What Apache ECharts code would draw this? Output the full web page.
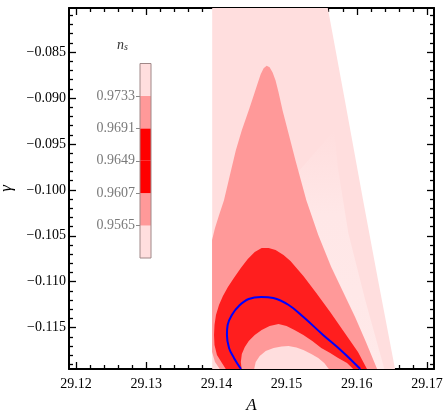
<!DOCTYPE html>
<html>
<head>
<meta charset="utf-8">
<script src="https://cdn.jsdelivr.net/npm/echarts@6/dist/echarts.min.js"></script>
<style>html,body{margin:0;padding:0;background:#fff;}#c{width:443px;height:411px;}</style>
</head>
<body>
<div id="c"></div>
<script>
// ---- data (A, gamma) ----
const xMajor = [29.12, 29.13, 29.14, 29.15, 29.16, 29.17];
const yMajor = [-0.115, -0.110, -0.105, -0.100, -0.095, -0.090, -0.085];
const nsLevels = [0.9523, 0.9565, 0.9607, 0.9649, 0.9691, 0.9733, 0.9775];
const nsTickLabels = [0.9565, 0.9607, 0.9649, 0.9691, 0.9733];

const outerRegion = [[29.1394,-0.0795],[29.1557,-0.0795],[29.1583,-0.09025],[29.1609,-0.10112],[29.1630,-0.1097],[29.1655,-0.1197],[29.1394,-0.1197]];
const lightBand = [[29.1568,-0.09351],[29.1573,-0.09753],[29.1588,-0.10471],[29.1612,-0.11199],[29.1640,-0.1197],[29.1630,-0.1197],[29.1613,-0.11655],[29.1598,-0.11384],[29.1581,-0.11112],[29.1564,-0.10840],[29.1545,-0.10492],[29.1528,-0.10112],[29.1517,-0.09800]];
const midOuter = [[29.13938,-0.10547],[29.13980,-0.10416],[29.14037,-0.10275],[29.14108,-0.10112],[29.14192,-0.09840],[29.14277,-0.09568],[29.14362,-0.09351],[29.14461,-0.09134],[29.14532,-0.08971],[29.14588,-0.08840],[29.14631,-0.08742],[29.14673,-0.08677],[29.14716,-0.08650],[29.14758,-0.08666],[29.14801,-0.08721],[29.14843,-0.08808],[29.14885,-0.08938],[29.14942,-0.09134],[29.15027,-0.09384],[29.15126,-0.09677],[29.15281,-0.10112],[29.15451,-0.10492],[29.15635,-0.10840],[29.15805,-0.11112],[29.15975,-0.11384],[29.16130,-0.11655],[29.16300,-0.1197],[29.14065,-0.1197],[29.13980,-0.11873],[29.13938,-0.11764]];
const redRegion = [[29.14150,-0.1197],[29.14079,-0.11884],[29.14008,-0.11797],[29.13973,-0.11688],[29.13966,-0.11579],[29.13973,-0.11471],[29.13994,-0.11362],[29.14037,-0.11253],[29.14093,-0.11155],[29.14164,-0.11058],[29.14249,-0.10960],[29.14348,-0.10851],[29.14447,-0.10753],[29.14546,-0.10677],[29.14645,-0.10634],[29.14744,-0.10634],[29.14843,-0.10655],[29.14956,-0.10710],[29.15055,-0.10775],[29.15239,-0.10938],[29.15423,-0.11123],[29.15621,-0.11329],[29.15819,-0.11547],[29.16017,-0.11764],[29.16159,-0.1197]];
const midInner = [[29.14362,-0.1197],[29.14348,-0.11873],[29.14362,-0.11786],[29.14405,-0.11710],[29.14461,-0.11645],[29.14546,-0.11579],[29.14645,-0.11525],[29.14758,-0.11482],[29.14885,-0.11460],[29.14999,-0.11482],[29.15112,-0.11525],[29.15239,-0.11579],[29.15366,-0.11645],[29.15494,-0.11721],[29.15621,-0.11775],[29.15734,-0.11829],[29.15861,-0.11884],[29.15975,-0.1197]];
const coreRegion = [[29.14532,-0.1197],[29.14560,-0.11873],[29.14617,-0.11808],[29.14702,-0.11753],[29.14815,-0.11721],[29.14928,-0.11704],[29.15027,-0.11699],[29.15140,-0.11715],[29.15239,-0.11742],[29.15352,-0.11786],[29.15451,-0.11829],[29.15536,-0.11884],[29.15621,-0.1197]];
const blueCurve = [[29.1435,-0.1195],[29.1425,-0.11829],[29.1418,-0.11721],[29.1415,-0.11579],[29.1416,-0.11471],[29.1422,-0.11362],[29.1432,-0.11264],[29.1446,-0.11188],[29.1464,-0.11166],[29.1481,-0.11177],[29.1503,-0.11253],[29.1524,-0.11384],[29.1552,-0.11579],[29.1580,-0.11764],[29.1605,-0.1195]];

// ---- styles ----
const C_LIGHT = '#ffdede', C_MID = '#ff9999', C_RED = '#ff1e1e';
const C_LIGHTER = { type: 'linear', x: 0, y: 0, x2: 0, y2: 1, colorStops: [{ offset: 0, color: '#ffdede' }, { offset: 0.35, color: '#ffe7e7' }, { offset: 1, color: '#ffe9e9' }] };
const bandColors = ['#ffdede', '#ff9999', '#ff0000', '#ff0000', '#ff9999', '#ffdede'];
const FONT = "'Liberation Serif','DejaVu Serif',serif";
const X_MIN = 29.119, X_MAX = 29.171, Y_MIN = -0.1195, Y_MAX = -0.0802;

const r = v => Math.round(v * 1e6) / 1e6;
const xMinor = [], yMinor = [];
for (let k = 0; k <= 26; k++) { const v = r(29.118 + k * 0.002); if (v > X_MIN && v < X_MAX && !xMajor.some(m => Math.abs(m - v) < 1e-7)) xMinor.push(v); }
for (let k = 0; k <= 40; k++) { const v = r(-0.120 + k * 0.001); if (v > Y_MIN && v < Y_MAX && !yMajor.some(m => Math.abs(m - v) < 1e-7)) yMinor.push(v); }

function xAx(pos, ticks, len, withLabel, lineShow) {
  const o = {
    type: 'value', gridIndex: 0, position: pos, min: X_MIN, max: X_MAX,
    axisLine: { show: lineShow, onZero: false, lineStyle: { color: '#000', width: 2 } },
    axisTick: { show: true, inside: true, length: len, customValues: ticks, lineStyle: { color: '#000', width: 1.3 } },
    axisLabel: { show: withLabel },
    splitLine: { show: false }
  };
  if (withLabel) {
    o.axisLabel = { show: true, customValues: ticks, formatter: v => v.toFixed(2), fontFamily: FONT, fontSize: 14, color: '#000', margin: 8 };
    o.name = 'A'; o.nameLocation = 'middle'; o.nameGap = 28;
    o.nameTextStyle = { fontFamily: FONT, fontStyle: 'italic', fontSize: 17, color: '#000' };
  }
  return o;
}
function yAx(pos, ticks, len, withLabel, lineShow) {
  const o = {
    type: 'value', gridIndex: 0, position: pos, min: Y_MIN, max: Y_MAX,
    axisLine: { show: lineShow, onZero: false, lineStyle: { color: '#000', width: 2 } },
    axisTick: { show: true, inside: true, length: len, customValues: ticks, lineStyle: { color: '#000', width: 1.3 } },
    axisLabel: { show: withLabel },
    splitLine: { show: false }
  };
  if (withLabel) {
    o.axisLabel = { show: true, customValues: ticks, formatter: v => '\u2212' + Math.abs(v).toFixed(3), fontFamily: FONT, fontSize: 14, color: '#000', margin: 3 };
    o.name = 'γ'; o.nameLocation = 'middle'; o.nameGap = 54; o.nameRotate = 90;
    o.nameTextStyle = { fontFamily: FONT, fontStyle: 'italic', fontSize: 17, color: '#000' };
  }
  return o;
}

function polySeries(poly, fill) {
  return {
    type: 'custom', xAxisIndex: 0, yAxisIndex: 0, clip: true, silent: true,
    data: poly,
    renderItem: (params, api) => {
      if (params.dataIndex !== 0) return null;
      return { type: 'polygon', shape: { points: poly.map(p => api.coord(p)) }, style: { fill: fill, stroke: null } };
    }
  };
}

const chart = echarts.init(document.getElementById('c'), null, { renderer: 'canvas' });
chart.setOption({
  animation: false,
  backgroundColor: '#fff',
  grid: [
    { left: 69, right: 9, top: 8, bottom: 42, containLabel: false, outerBoundsMode: 'none' },
    { left: 140, top: 63.5, width: 11, height: 194.5, containLabel: false, outerBoundsMode: 'none' }
  ],
  xAxis: [
    xAx('bottom', xMajor, 7, true, true),
    xAx('bottom', xMinor, 4, false, false),
    xAx('top', xMajor, 7, false, true),
    xAx('top', xMinor, 4, false, false),
    { type: 'value', gridIndex: 1, min: 0, max: 1, show: false }
  ],
  yAxis: [
    yAx('left', yMajor, 7, true, true),
    yAx('left', yMinor, 4, false, false),
    yAx('right', yMajor, 7, false, true),
    yAx('right', yMinor, 4, false, false),
    {
      type: 'value', gridIndex: 1, min: nsLevels[0], max: nsLevels[nsLevels.length - 1], position: 'left',
      axisLine: { show: false },
      axisTick: { show: true, inside: false, length: 4, customValues: nsTickLabels, lineStyle: { color: '#888', width: 1 } },
      axisLabel: { show: true, customValues: nsTickLabels, formatter: v => v.toFixed(4), fontFamily: FONT, fontSize: 14, color: '#7a7a7a', margin: 5 },
      splitLine: { show: false }
    }
  ],
  graphic: [{
    type: 'text', left: 117, top: 38,
    style: {
      text: '{n|n}{s|s}',
      rich: {
        n: { fontFamily: FONT, fontStyle: 'italic', fontSize: 14, fill: '#333', verticalAlign: 'bottom' },
        s: { fontFamily: FONT, fontStyle: 'italic', fontSize: 10, fill: '#333', verticalAlign: 'bottom', padding: [4, 0, 0, 0] }
      }
    }
  }],
  series: [
    polySeries(outerRegion, C_LIGHT),
    polySeries(lightBand, C_LIGHTER),
    polySeries(midOuter, C_MID),
    polySeries(redRegion, C_RED),
    polySeries(midInner, C_MID),
    polySeries(coreRegion, C_LIGHT),
    {
      type: 'line', xAxisIndex: 0, yAxisIndex: 0, data: blueCurve, smooth: 0.4, showSymbol: false, silent: true,
      lineStyle: { color: '#0000ff', width: 2 }, clip: true
    },
    {
      type: 'custom', xAxisIndex: 4, yAxisIndex: 4, silent: true,
      data: bandColors.map((c, i) => [nsLevels[i], nsLevels[i + 1]]),
      renderItem: (params, api) => {
        const p1 = api.coord([0, api.value(1)]);
        const p2 = api.coord([1, api.value(0)]);
        return { type: 'rect', shape: { x: p1[0], y: p1[1], width: p2[0] - p1[0], height: p2[1] - p1[1] }, style: { fill: bandColors[params.dataIndex] } };
      }
    },
    {
      type: 'custom', xAxisIndex: 4, yAxisIndex: 4, silent: true, z: 5,
      data: [[nsLevels[0], nsLevels[nsLevels.length - 1]]],
      renderItem: (params, api) => {
        const p1 = api.coord([0, api.value(1)]);
        const p2 = api.coord([1, api.value(0)]);
        return { type: 'rect', shape: { x: p1[0], y: p1[1], width: p2[0] - p1[0], height: p2[1] - p1[1] }, style: { fill: null, stroke: '#a08888', lineWidth: 1 } };
      }
    }
  ]
});
</script>
</body>
</html>
